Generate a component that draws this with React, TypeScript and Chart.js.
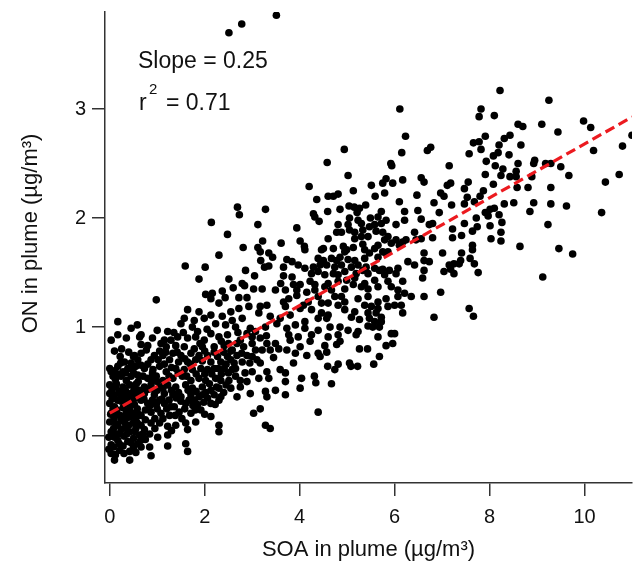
import React, { useEffect, useRef } from "react";
import { Chart, registerables } from "chart.js";

Chart.register(...registerables);

const FONT = "'Liberation Sans', Arial, Helvetica, sans-serif";

const xTickValues = [0, 2, 4, 6, 8, 10];
const yTickValues = [0, 1, 2, 3];
const xRange = [-0.1, 11.0];
const yRange = [-0.43, 3.89];

const fitSlope = 0.247;
const fitIntercept = 0.21;
const fitXRange = [0, 11];
const slopeLabel = "0.25";
const r2Label = "0.71";

const xTitle = "SOA in plume (µg/m³)";
const yTitle = "ON in plume (µg/m³)";

// [SOA, ON] pairs
const pointsTop: [number, number][] = [
  [2.51, 3.70], [2.78, 3.78], [3.51, 3.86],
  [6.11, 3.00], [6.23, 2.75], [4.94, 2.63], [4.58, 2.51], [6.15, 2.60], [5.92, 2.50], [5.94, 2.48],
  [6.69, 2.62], [6.76, 2.65], [7.15, 2.48],
  [8.22, 3.17], [9.25, 3.08], [7.82, 3.00], [7.78, 2.93], [8.10, 2.94], [8.60, 2.86], [8.70, 2.84],
  [9.10, 2.86], [9.98, 2.89], [10.13, 2.83], [9.44, 2.79], [11.0, 2.76], [10.80, 2.66], [10.19, 2.62],
  [7.91, 2.75], [8.43, 2.76], [8.31, 2.73], [7.66, 2.69], [7.78, 2.70], [7.82, 2.63], [8.20, 2.67],
  [8.66, 2.67], [7.57, 2.59], [8.08, 2.57], [8.18, 2.60], [8.41, 2.58], [7.93, 2.52], [8.12, 2.48],
  [8.28, 2.45], [8.60, 2.50], [8.95, 2.53], [8.93, 2.50], [9.18, 2.50], [9.29, 2.50], [9.50, 2.47],
];

const pointsRight: [number, number][] = [
  [7.91, 2.40], [8.24, 2.39], [8.43, 2.38], [8.56, 2.38], [8.56, 2.43], [8.89, 2.38], [9.67, 2.39],
  [10.73, 2.40], [10.44, 2.33], [7.55, 2.33], [8.08, 2.31], [7.47, 2.27], [7.87, 2.25], [7.80, 2.20],
  [7.53, 2.19], [8.58, 2.28], [8.81, 2.28], [9.29, 2.28], [7.68, 2.15], [7.47, 2.13], [8.31, 2.13],
  [8.51, 2.14], [8.93, 2.14], [9.29, 2.13], [9.62, 2.11], [10.36, 2.05], [8.85, 2.06], [8.01, 2.08],
  [8.10, 2.09], [7.91, 2.05], [7.97, 2.02], [8.20, 2.03], [7.72, 2.00], [7.47, 1.95], [8.26, 1.96],
  [8.01, 1.93], [7.74, 1.92], [7.64, 1.88], [7.41, 1.84], [8.24, 1.87], [8.24, 1.79], [8.03, 1.81],
  [9.23, 1.94], [8.64, 1.74], [9.46, 1.72], [9.75, 1.67], [7.64, 1.75], [7.64, 1.71], [7.41, 1.68],
  [7.59, 1.63], [7.39, 1.61], [7.36, 1.58], [7.68, 1.58], [7.76, 1.50], [9.12, 1.46], [7.57, 1.17],
  [7.66, 1.10],
];

const pointsMiddle: [number, number][] = [
  [5.02, 2.39], [4.20, 2.29], [5.82, 2.36], [5.75, 2.32], [5.96, 2.32], [6.17, 2.35], [6.56, 2.37],
  [6.62, 2.33], [7.11, 2.30], [7.18, 2.32], [5.13, 2.25], [5.51, 2.30], [4.60, 2.20], [4.71, 2.20],
  [4.81, 2.22], [5.59, 2.20], [5.79, 2.23], [6.47, 2.21], [6.97, 2.23], [7.04, 2.20], [4.36, 2.17],
  [5.04, 2.11], [5.15, 2.10], [5.26, 2.09], [5.39, 2.12], [6.10, 2.15], [6.83, 2.14], [7.20, 2.12],
  [4.29, 2.04], [4.32, 2.01], [4.59, 2.06], [4.85, 2.08], [5.21, 2.05], [5.72, 2.06], [6.21, 2.06],
  [6.49, 2.07], [6.94, 2.05], [4.41, 1.97], [5.05, 2.00], [5.23, 1.98], [5.49, 2.00], [5.65, 2.01],
  [5.82, 1.98], [6.21, 1.98], [6.56, 1.99], [3.94, 1.91], [4.81, 1.94], [5.02, 1.94], [5.30, 1.95],
  [5.47, 1.92], [5.58, 1.94], [5.72, 1.95], [6.03, 1.94], [6.73, 1.94], [6.80, 1.95], [4.78, 1.87],
  [4.88, 1.87], [5.05, 1.89], [5.16, 1.87], [5.33, 1.89], [5.61, 1.88], [5.75, 1.87], [6.42, 1.87],
  [7.22, 1.90], [4.60, 1.81], [5.16, 1.81], [5.30, 1.83], [5.44, 1.83], [5.79, 1.80], [5.86, 1.83],
  [6.03, 1.80], [6.17, 1.78], [6.24, 1.80], [6.45, 1.80], [6.56, 1.81], [6.80, 1.82], [7.22, 1.82],
  [3.61, 1.77], [4.01, 1.79], [4.10, 1.74], [4.50, 1.72], [4.71, 1.72], [4.92, 1.74], [4.99, 1.71],
  [5.13, 1.73], [5.33, 1.76], [5.58, 1.72], [5.65, 1.75], [5.93, 1.77], [6.10, 1.75], [4.11, 1.71],
  [4.46, 1.71], [4.95, 1.69], [5.37, 1.71], [5.47, 1.68], [5.75, 1.69], [5.86, 1.69], [6.62, 1.68],
  [7.01, 1.68], [3.73, 1.62], [3.84, 1.60], [4.39, 1.63], [4.50, 1.61], [4.67, 1.63], [4.78, 1.61],
  [4.85, 1.64], [5.02, 1.62], [5.16, 1.61], [5.37, 1.63], [5.65, 1.64], [5.82, 1.68], [6.28, 1.60],
  [6.42, 1.57], [6.62, 1.61], [6.73, 1.60], [7.15, 1.57], [7.25, 1.58], [3.66, 1.55], [3.97, 1.57],
  [4.11, 1.54], [4.29, 1.55], [4.43, 1.57], [4.57, 1.57], [4.74, 1.55], [4.88, 1.57], [5.09, 1.55],
  [5.23, 1.57], [5.40, 1.55], [5.58, 1.54], [5.68, 1.52], [5.75, 1.53], [5.89, 1.52], [6.07, 1.54],
  [6.62, 1.52], [7.18, 1.53], [7.25, 1.49], [3.66, 1.47], [3.84, 1.46], [4.25, 1.49], [4.39, 1.51],
  [4.53, 1.48], [4.71, 1.49], [4.81, 1.48], [4.95, 1.51], [5.19, 1.49], [5.33, 1.52], [5.44, 1.49],
  [5.79, 1.48], [6.03, 1.49], [6.59, 1.45], [7.04, 1.51], [3.60, 1.40], [3.87, 1.39], [4.01, 1.39],
  [4.22, 1.42], [4.32, 1.39], [4.60, 1.40], [4.81, 1.42], [4.99, 1.43], [5.16, 1.45], [5.37, 1.40],
  [5.58, 1.43], [5.86, 1.42], [6.17, 1.42], [3.70, 1.34], [3.94, 1.34], [4.15, 1.32], [4.32, 1.34],
  [4.53, 1.37], [4.67, 1.34], [4.95, 1.35], [5.13, 1.39], [5.30, 1.37], [5.44, 1.35], [5.65, 1.37],
  [5.93, 1.37], [6.07, 1.34], [6.21, 1.31], [6.35, 1.28], [6.62, 1.28], [6.97, 1.32], [3.77, 1.26],
  [3.94, 1.29], [4.39, 1.28], [4.74, 1.28], [4.88, 1.28], [5.23, 1.26], [5.44, 1.28], [5.65, 1.23],
  [5.82, 1.26], [6.07, 1.28], [3.66, 1.23], [4.08, 1.20], [4.18, 1.23], [4.46, 1.22], [4.60, 1.22],
  [4.81, 1.20], [4.95, 1.23], [5.37, 1.20], [5.51, 1.19], [5.65, 1.17], [5.86, 1.19], [6.00, 1.20],
  [6.14, 1.20], [4.25, 1.16], [4.46, 1.13], [4.60, 1.11], [4.95, 1.16], [5.16, 1.14], [5.44, 1.13],
  [5.61, 1.13], [5.72, 1.09], [6.17, 1.13], [6.83, 1.09], [4.11, 1.05], [4.39, 1.08], [4.57, 1.08],
  [5.09, 1.09], [5.26, 1.07], [5.47, 1.08], [5.58, 1.05], [5.72, 1.05], [4.11, 0.99], [4.39, 0.97],
  [4.64, 1.00], [4.85, 1.00], [5.02, 0.97], [5.23, 0.96], [5.44, 1.01], [5.54, 1.00], [5.68, 1.00],
  [5.93, 0.94], [6.00, 0.94], [4.25, 0.93], [4.60, 0.91], [4.81, 0.93], [5.19, 0.93], [5.65, 0.91],
];

const pointsUpperLeft: [number, number][] = [
  [2.69, 2.10], [3.28, 2.08], [2.73, 2.03], [2.14, 1.96], [3.12, 1.94], [2.48, 1.85], [3.22, 1.79],
  [2.81, 1.73], [3.12, 1.73], [3.17, 1.69], [3.35, 1.68], [2.30, 1.66], [3.43, 1.64], [3.18, 1.61],
  [1.59, 1.56], [2.01, 1.55], [3.26, 1.55], [3.35, 1.56], [2.86, 1.52], [1.88, 1.44], [3.05, 1.47],
  [2.51, 1.44], [2.79, 1.40], [2.84, 1.38], [2.60, 1.36], [2.37, 1.33], [2.16, 1.31], [2.02, 1.30],
  [2.13, 1.26], [2.43, 1.27], [2.72, 1.27], [2.89, 1.27], [3.03, 1.35], [3.21, 1.35], [3.49, 1.34],
];

const pointsLowerMiddle: [number, number][] = [
  [4.22, 0.87], [4.53, 0.83], [4.78, 0.84], [4.85, 0.87], [5.26, 0.80], [5.43, 0.80], [5.82, 0.83],
  [5.96, 0.85], [4.15, 0.74], [4.39, 0.76], [4.43, 0.73], [4.57, 0.77], [4.81, 0.66], [4.74, 0.61],
  [5.05, 0.67], [5.08, 0.64], [5.22, 0.64], [5.56, 0.66], [5.68, 0.73], [4.59, 0.64], [4.31, 0.55],
  [4.34, 0.49], [4.67, 0.48], [4.39, 0.22],
];

const pointsCore: [number, number][] = [
  [0.98, 1.25], [2.30, 1.22], [2.55, 1.14], [2.72, 1.17], [2.93, 1.19], [3.17, 1.19], [3.31, 1.20],
  [3.70, 1.19], [4.01, 1.17], [1.64, 1.16], [1.88, 1.14], [1.57, 1.08], [1.78, 1.06], [1.99, 1.08],
  [2.13, 1.11], [2.37, 1.10], [2.58, 1.06], [2.79, 1.08], [3.14, 1.13], [3.38, 1.10], [3.59, 1.08],
  [3.80, 1.11], [0.17, 1.05],
  [0.58, 1.02], [0.45, 0.99], [0.17, 0.93], [0.63, 0.91], [0.66, 0.93], [1.22, 0.96], [1.50, 1.03],
  [1.74, 1.00], [1.85, 0.96], [2.23, 1.03], [2.44, 1.02], [2.65, 1.00], [2.96, 0.99], [3.07, 0.96],
  [3.28, 1.00], [3.52, 1.03], [3.73, 0.99], [3.91, 1.02], [3.77, 0.93], [1.15, 0.88], [1.29, 0.88],
  [1.43, 0.91], [1.64, 0.90], [1.81, 0.91], [1.99, 0.88], [2.13, 0.94], [2.30, 0.91], [2.48, 0.93],
  [2.75, 0.88], [2.89, 0.94], [3.17, 0.90], [3.31, 0.85], [3.49, 0.85], [3.80, 0.88], [3.97, 0.91],
  [0.80, 0.83], [1.08, 0.85], [1.19, 0.82], [1.39, 0.83], [1.57, 0.82], [1.78, 0.80], [1.95, 0.82],
  [2.20, 0.82], [2.41, 0.83], [2.58, 0.79], [2.68, 0.85], [2.82, 0.82], [3.07, 0.79], [3.21, 0.79],
  [3.38, 0.79], [3.56, 0.80], [3.73, 0.79], [3.91, 0.76], [4.01, 0.82], [0.52, 0.74], [0.66, 0.76],
  [0.77, 0.79], [0.94, 0.74], [1.12, 0.74], [1.33, 0.76], [1.50, 0.74], [1.71, 0.76], [1.88, 0.74],
  [2.06, 0.74], [2.27, 0.73], [2.48, 0.73], [2.68, 0.74], [2.89, 0.74], [3.10, 0.70], [0.59, 0.70],
  [0.31, 0.68], [0.45, 0.67], [0.87, 0.70], [1.26, 0.70], [1.64, 0.68], [1.81, 0.70], [2.13, 0.68],
  [2.34, 0.68], [2.55, 0.70], [2.79, 0.68], [3.17, 0.67], [3.87, 0.67],
  [0.17, 0.64], [0.03, 0.59], [0.07, 0.55], [0.28, 0.59], [0.38, 0.62], [0.73, 0.62], [0.91, 0.61],
  [1.05, 0.64], [1.19, 0.59], [1.39, 0.62], [1.57, 0.61], [1.74, 0.61], [1.92, 0.62], [2.06, 0.61],
  [2.20, 0.62], [2.41, 0.62], [2.58, 0.61], [3.00, 0.59], [3.31, 0.59], [3.59, 0.61], [3.70, 0.58],
  [0.24, 0.55], [0.45, 0.55], [0.59, 0.56], [0.80, 0.53], [0.98, 0.55], [1.12, 0.51], [1.33, 0.53],
  [1.53, 0.55], [1.71, 0.51], [1.88, 0.53], [2.02, 0.51], [2.23, 0.53], [2.34, 0.51], [2.51, 0.51],
  [2.75, 0.51], [2.89, 0.50], [3.14, 0.53], [3.35, 0.53], [3.70, 0.50], [4.04, 0.53],
  [0.00, 0.47], [0.14, 0.48], [0.28, 0.45], [0.42, 0.47], [0.56, 0.48], [0.73, 0.45], [0.87, 0.47],
  [1.05, 0.45], [1.22, 0.47], [1.39, 0.45], [1.60, 0.47], [1.74, 0.44], [1.95, 0.45], [2.13, 0.42],
  [2.30, 0.44], [2.55, 0.44], [2.75, 0.45], [2.96, 0.39], [3.28, 0.41], [3.49, 0.42], [4.01, 0.44],
  [0.00, 0.39], [0.10, 0.38], [0.24, 0.36], [0.38, 0.39], [0.59, 0.38], [0.73, 0.39], [0.94, 0.38],
  [1.15, 0.39], [1.33, 0.38], [1.50, 0.36], [1.71, 0.38], [1.88, 0.36], [2.06, 0.35], [2.34, 0.36],
  [2.68, 0.36], [3.70, 0.38], [3.31, 0.36],
  [0.00, 0.30], [0.10, 0.27], [0.24, 0.32], [0.38, 0.30], [0.52, 0.29], [0.66, 0.33], [0.80, 0.30],
  [0.98, 0.29], [1.15, 0.30], [1.29, 0.27], [1.50, 0.32], [1.67, 0.33], [1.85, 0.29], [2.13, 0.30],
  [2.30, 0.33], [0.03, 0.21], [0.21, 0.19], [0.35, 0.22], [0.49, 0.21], [0.66, 0.19], [0.87, 0.22],
  [1.08, 0.21], [1.26, 0.19], [1.46, 0.22], [1.71, 0.21], [1.92, 0.24], [2.13, 0.18], [3.03, 0.21],
  [3.17, 0.25], [3.28, 0.10],
  [0.00, 0.13], [0.17, 0.10], [0.31, 0.13], [0.49, 0.12], [0.66, 0.10], [0.87, 0.12], [1.05, 0.12],
  [1.22, 0.09], [1.39, 0.10], [1.60, 0.12], [1.81, 0.13], [2.30, 0.10], [2.30, 0.04], [3.38, 0.07],
  [0.03, 0.04], [0.21, 0.02], [0.42, 0.04], [0.63, 0.01], [0.84, 0.02], [1.01, -0.01], [1.22, 0.01],
  [1.64, 0.06], [0.17, -0.04], [0.38, -0.05], [0.03, -0.08], [0.59, -0.07],
  [0.84, -0.10], [0.66, -0.10], [1.22, -0.09], [1.60, -0.07], [1.64, -0.14], [0.21, -0.13],
  [0.42, -0.14], [0.03, -0.16], [0.87, -0.18], [0.10, -0.22], [0.42, -0.22],
];

const pointsCoreFill: [number, number][] = [
  [0.05, 0.43], [0.20, 0.41], [0.33, 0.42], [0.48, 0.40], [0.62, 0.42], [0.05, 0.34], [0.17, 0.33],
  [0.30, 0.34], [0.45, 0.33], [0.55, 0.35], [0.72, 0.34], [0.90, 0.33], [0.07, 0.25], [0.15, 0.24],
  [0.28, 0.26], [0.42, 0.25], [0.58, 0.25], [0.75, 0.24], [1.00, 0.25], [0.09, 0.16], [0.24, 0.15],
  [0.38, 0.17], [0.55, 0.16], [0.75, 0.15], [0.95, 0.16], [1.12, 0.16], [0.08, 0.07], [0.24, 0.06],
  [0.33, 0.08], [0.55, 0.07], [0.73, 0.06], [0.95, 0.07], [1.30, 0.05], [-0.02, -0.01], [0.10, -0.01],
  [0.30, 0.00], [0.50, -0.02], [0.75, -0.03], [0.08, -0.10], [0.28, -0.09], [0.50, -0.10],
  [-0.02, -0.12], [0.00, 0.62], [0.10, 0.60], [0.23, 0.67], [0.45, 0.62], [0.55, 0.64], [0.12, 0.52],
  [0.35, 0.51], [0.60, 0.50], [0.90, 0.58], [1.00, 0.50], [0.50, 0.73], [0.03, 0.88], [0.10, 0.78],
  [0.25, 0.80], [0.35, 0.90],
  [1.00, 0.42], [1.30, 0.42], [1.45, 0.40], [1.65, 0.42], [1.82, 0.41], [2.02, 0.40], [2.20, 0.38],
  [1.10, 0.34], [1.25, 0.33], [1.40, 0.35], [1.60, 0.30], [1.78, 0.33], [1.98, 0.31], [2.22, 0.29],
  [1.20, 0.25], [1.36, 0.27], [1.58, 0.25], [1.80, 0.24], [2.00, 0.20], [1.02, 0.70], [1.15, 0.66],
  [1.45, 0.68], [1.42, 0.77], [1.58, 0.71], [1.95, 0.69], [2.00, 0.78], [2.20, 0.77], [2.40, 0.77],
  [2.35, 0.57], [2.50, 0.58], [2.65, 0.55], [2.00, 0.57], [1.82, 0.57], [1.25, 0.55], [0.88, 0.52],
  [0.70, 0.55], [2.62, 0.67], [2.95, 0.67], [2.78, 0.76], [3.00, 0.85], [2.50, 0.85], [2.35, 0.87],
  [1.90, 0.85], [2.70, 0.95], [3.00, 0.91], [3.30, 0.92], [3.45, 0.72], [3.00, 0.73],
  [0.13, 0.45], [0.27, 0.38], [0.41, 0.36], [0.52, 0.44], [0.02, 0.20], [0.14, 0.20], [0.27, 0.18],
  [0.44, 0.18], [0.60, 0.20], [0.13, 0.11], [0.40, 0.10], [0.58, 0.12], [0.15, 0.02], [0.36, 0.02],
  [0.53, 0.04], [0.70, 0.02], [0.20, -0.07], [0.45, -0.06], [0.65, -0.04], [0.12, -0.17], [0.30, -0.16],
  [0.55, -0.15], [0.33, 0.58], [0.18, 0.57], [0.50, 0.58], [0.66, 0.65], [0.80, 0.66], [0.22, 0.73],
  [0.40, 0.77], [0.66, 0.84],
  [0.82, 0.43], [0.95, 0.42], [1.12, 0.44], [0.85, 0.28], [1.05, 0.33], [1.38, 0.19], [1.52, 0.16],
  [1.75, 0.28], [1.95, 0.38], [2.10, 0.48], [2.25, 0.45], [2.45, 0.47], [2.40, 0.40], [1.62, 0.55],
  [1.44, 0.58], [1.18, 0.77], [1.30, 0.63], [1.70, 0.66], [2.28, 0.62], [2.15, 0.57], [2.45, 0.66],
  [2.65, 0.62], [2.85, 0.58], [2.55, 0.78], [1.05, 0.78], [0.90, 0.90], [1.00, 0.97], [1.35, 0.95],
  [1.55, 0.95], [2.05, 0.98],
];

const allPoints = [
  ...pointsTop,
  ...pointsRight,
  ...pointsMiddle,
  ...pointsUpperLeft,
  ...pointsLowerMiddle,
  ...pointsCore,
  ...pointsCoreFill,
];

export default function App() {
  const canvasRef = useRef<HTMLCanvasElement>(null);

  useEffect(() => {
    const canvas = canvasRef.current;
    if (!canvas) return;

    const textPlugin = {
      id: "fitText",
      afterDatasetsDraw(chart: any) {
        const { ctx, chartArea } = chart;
        const x0 = chartArea.left + 33;
        ctx.save();
        ctx.fillStyle = "#111";
        ctx.textBaseline = "alphabetic";
        ctx.textAlign = "left";
        ctx.font = `23px ${FONT}`;
        ctx.fillText(`Slope = ${slopeLabel}`, x0, chartArea.top + 56);
        ctx.fillText("r", x0 + 1, chartArea.top + 98);
        ctx.font = `15px ${FONT}`;
        ctx.fillText("2", x0 + 11, chartArea.top + 82);
        ctx.font = `23px ${FONT}`;
        ctx.fillText(`= ${r2Label}`, x0 + 28, chartArea.top + 98);
        ctx.restore();
      },
      afterDraw(chart: any) {
        const { ctx, chartArea } = chart;
        ctx.save();
        ctx.fillStyle = "#111";
        ctx.font = `22px ${FONT}`;
        ctx.textAlign = "center";
        ctx.textBaseline = "middle";
        ctx.translate(31, (chartArea.top + chartArea.bottom) / 2 - 14);
        ctx.rotate(-Math.PI / 2);
        ctx.fillText(yTitle, 0, 0);
        ctx.restore();
      },
    };

    const chart = new Chart(canvas, {
      type: "scatter",
      data: {
        datasets: [
          {
            type: "line",
            data: fitXRange.map((x) => ({ x, y: fitIntercept + fitSlope * x })),
            borderColor: "#ec1a1f",
            borderWidth: 3.2,
            borderDash: [10, 5],
            pointRadius: 0,
            fill: false,
            order: 0,
          } as any,
          {
            data: allPoints.map(([x, y]) => ({ x, y })),
            backgroundColor: "#000",
            borderColor: "#000",
            borderWidth: 0,
            pointRadius: 3.8,
            order: 1,
          },
        ],
      },
      plugins: [textPlugin],
      options: {
        animation: false,
        responsive: false,
        devicePixelRatio: 1,
        layout: { padding: { top: 12, right: 0, left: 0, bottom: 0 } },
        plugins: {
          legend: { display: false },
          tooltip: { enabled: false },
        },
        scales: {
          x: {
            type: "linear",
            min: xRange[0],
            max: xRange[1],
            afterBuildTicks: (s: any) => {
              s.ticks = xTickValues.map((v) => ({ value: v }));
            },
            afterFit: (s: any) => {
              s.height = 84;
              s.paddingLeft = 0;
              s.paddingRight = 0;
            },
            ticks: {
              font: { family: FONT, size: 20 },
              color: "#111",
              padding: 9,
              maxRotation: 0,
            },
            grid: {
              display: true,
              drawOnChartArea: false,
              drawTicks: true,
              tickLength: 13,
              color: "#333",
              lineWidth: 1.5,
            },
            border: { display: true, color: "#333", width: 1.5 },
            title: {
              display: true,
              text: xTitle,
              font: { family: FONT, size: 22 },
              color: "#111",
              padding: { top: 0, bottom: 4 },
            },
          },
          y: {
            type: "linear",
            min: yRange[0],
            max: yRange[1],
            afterBuildTicks: (s: any) => {
              s.ticks = yTickValues.map((v) => ({ value: v }));
            },
            afterFit: (s: any) => {
              s.width = 105;
              s.paddingTop = 0;
              s.paddingBottom = 0;
            },
            ticks: {
              font: { family: FONT, size: 20 },
              color: "#111",
              padding: 6,
            },
            grid: {
              display: true,
              drawOnChartArea: false,
              drawTicks: true,
              tickLength: 13,
              color: "#333",
              lineWidth: 1.5,
            },
            border: { display: true, color: "#333", width: 1.5 },
            title: { display: false, text: yTitle },
          },
        },
      },
    });

    return () => chart.destroy();
  }, []);

  return (
    <div style={{ position: "absolute", left: 0, top: 0, width: 636, height: 567, background: "#fff" }}>
      <canvas ref={canvasRef} width={636} height={567} style={{ display: "block" }} />
    </div>
  );
}
